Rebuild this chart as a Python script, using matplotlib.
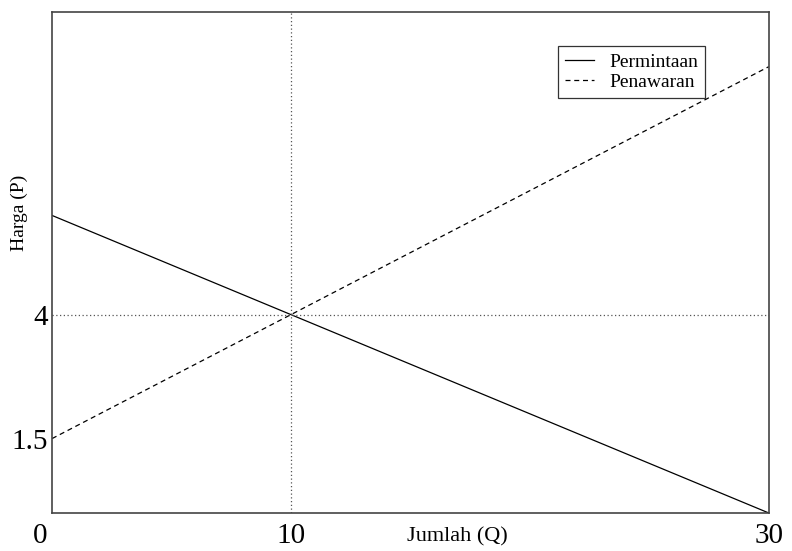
import matplotlib
matplotlib.use("Agg")
import matplotlib.pyplot as plt
import matplotlib.transforms as mtransforms

plt.rcParams["font.family"] = ["Liberation Serif", "DejaVu Serif"]

# data
q = [0, 30]
demand = [6, 0]      # P = 6 - 0.2Q
supply = [1.5, 9]    # P = 1.5 + 0.25Q
eq_q, eq_p = 10, 4
x_ticks = [0, 10, 30]
y_ticks = [1.5, 4]
y_tick_labels = ["1.5", "4"]

fig = plt.figure(figsize=(7.92, 5.51), dpi=100)
ax = fig.add_axes([0.0657, 0.069, 0.905, 0.909])

ax.plot(q, demand, color="black", lw=0.9, label="Permintaan")
ax.plot(q, supply, color="black", lw=0.9, ls=(0, (4, 3)), label="Penawaran")
ax.axvline(eq_q, color="#555555", lw=0.9, ls=(0, (1, 2)))
ax.axhline(eq_p, color="#555555", lw=0.9, ls=(0, (1, 2)))

ax.set_xlim(0, 30)
ax.set_ylim(0, 10.1)
ax.set_xticks(x_ticks)
ax.set_xticklabels([str(t) for t in x_ticks], fontsize=21)
ax.set_yticks(y_ticks)
ax.set_yticklabels(y_tick_labels, fontsize=21)
ax.tick_params(axis="x", length=0, pad=7)
ax.tick_params(axis="y", length=0, pad=3)

# the "0" sits a little left of the corner
shift = mtransforms.ScaledTranslation(-12 / 100, 0, fig.dpi_scale_trans)
first = ax.get_xticklabels()[0]
first.set_transform(first.get_transform() + shift)

for s in ax.spines.values():
    s.set_color("#444444")
    s.set_linewidth(1.2)

ax.set_xlabel("Jumlah (Q)", fontsize=16)
ax.xaxis.set_label_coords(0.566, -0.028)
ax.set_ylabel("Harga (P)", fontsize=14)
ax.yaxis.set_label_coords(-0.034, 0.6)

leg = ax.legend(loc="upper right", bbox_to_anchor=(0.911, 0.932), fontsize=14,
                frameon=True, fancybox=False, edgecolor="black",
                borderpad=0.35, labelspacing=0.15, handlelength=1.5,
                handletextpad=0.8, borderaxespad=0)
leg.get_frame().set_linewidth(0.9)

plt.savefig("out.png", dpi=100)
